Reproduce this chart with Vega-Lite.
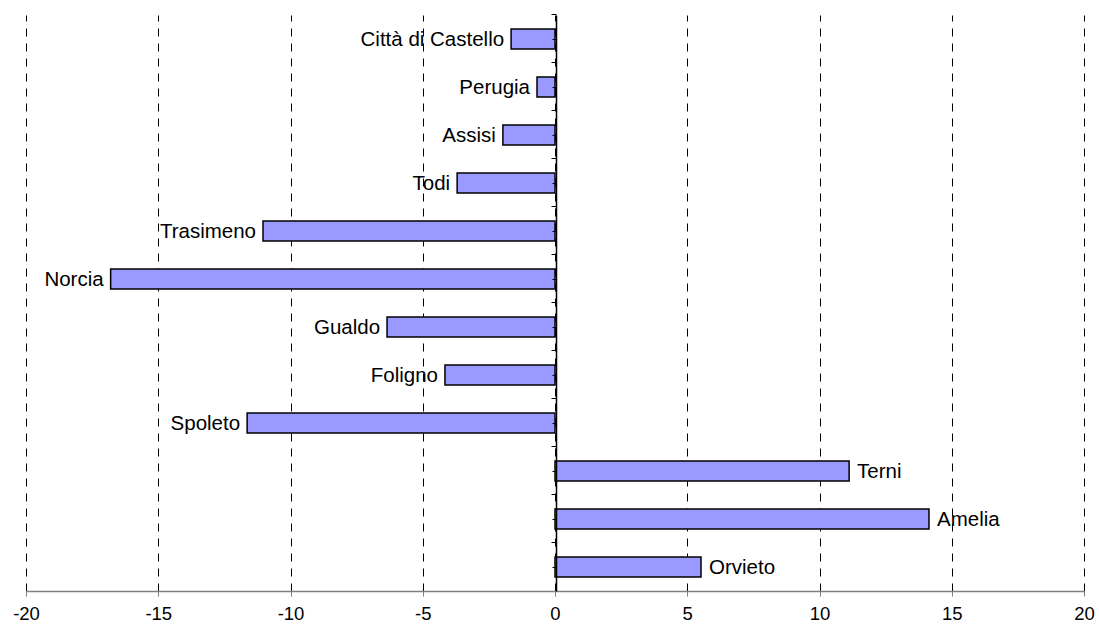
{
  "$schema": "https://vega.github.io/schema/vega-lite/v6.json",
  "autosize": "none",
  "padding": {"left": 26, "top": 15, "right": 15, "bottom": 37},
  "width": 1058,
  "height": 576,
  "background": "white",
  "config": {
    "view": {"stroke": null},
    "font": "Liberation Sans"
  },
  "data": {
    "values": [
      {"zona": "Città di Castello", "valore": -1.66},
      {"zona": "Perugia", "valore": -0.68},
      {"zona": "Assisi", "valore": -1.97},
      {"zona": "Todi", "valore": -3.7},
      {"zona": "Trasimeno", "valore": -11.04},
      {"zona": "Norcia", "valore": -16.8},
      {"zona": "Gualdo", "valore": -6.35},
      {"zona": "Foligno", "valore": -4.16},
      {"zona": "Spoleto", "valore": -11.64},
      {"zona": "Terni", "valore": 11.12},
      {"zona": "Amelia", "valore": 14.14},
      {"zona": "Orvieto", "valore": 5.52}
    ]
  },
  "resolve": {"axis": {"y": "independent"}},
  "layer": [
    {
      "mark": {"type": "bar", "fill": "#9999FF", "stroke": "black", "strokeWidth": 1.5},
      "encoding": {
        "y": {
          "field": "zona",
          "type": "nominal",
          "sort": null,
          "scale": {"paddingInner": 0.58, "paddingOuter": 0.29},
          "axis": {
            "orient": "left",
            "offset": -530,
            "zindex": 1,
            "title": null,
            "labels": false,
            "domainColor": "black",
            "domainWidth": 1.5,
            "tickColor": "black",
            "tickWidth": 1,
            "tickSize": 5,
            "bandPosition": -0.6905,
            "grid": false
          }
        },
        "x": {
          "field": "valore",
          "type": "quantitative",
          "scale": {"domain": [-20, 20], "nice": false},
          "axis": {
            "title": null,
            "values": [-20, -15, -10, -5, 0, 5, 10, 15, 20],
            "labelExpr": "datum.value < 0 ? '-' + abs(datum.value) : '' + datum.value",
            "labelFlush": false,
            "grid": true,
            "gridColor": "black",
            "gridDash": [8, 7],
            "gridWidth": 1,
            "gridOpacity": 1,
            "domainColor": "#808080",
            "domainWidth": 1.5,
            "tickColor": "#808080",
            "tickSize": 5,
            "labelFontSize": 18.5,
            "labelColor": "black",
            "labelPadding": 8,
            "labelFont": "Liberation Sans"
          }
        }
      }
    },
    {
      "transform": [{"filter": "datum.valore < 0"}],
      "mark": {"type": "text", "align": "right", "baseline": "middle", "dx": -7, "dy": 1, "fontSize": 20.5, "color": "black"},
      "encoding": {
        "y": {
          "field": "zona",
          "type": "nominal",
          "sort": null,
          "axis": {
            "orient": "left",
            "offset": -530,
            "zindex": 2,
            "title": null,
            "labels": false,
            "domain": false,
            "tickColor": "black",
            "tickWidth": 1,
            "tickSize": 4,
            "bandPosition": 0.5,
            "grid": false
          }
        },
        "x": {"field": "valore", "type": "quantitative"},
        "text": {"field": "zona"}
      }
    },
    {
      "transform": [{"filter": "datum.valore >= 0"}],
      "mark": {"type": "text", "align": "left", "baseline": "middle", "dx": 8, "dy": 1, "fontSize": 20.5, "color": "black"},
      "encoding": {
        "y": {"field": "zona", "type": "nominal", "sort": null, "axis": null},
        "x": {"field": "valore", "type": "quantitative"},
        "text": {"field": "zona"}
      }
    }
  ]
}
